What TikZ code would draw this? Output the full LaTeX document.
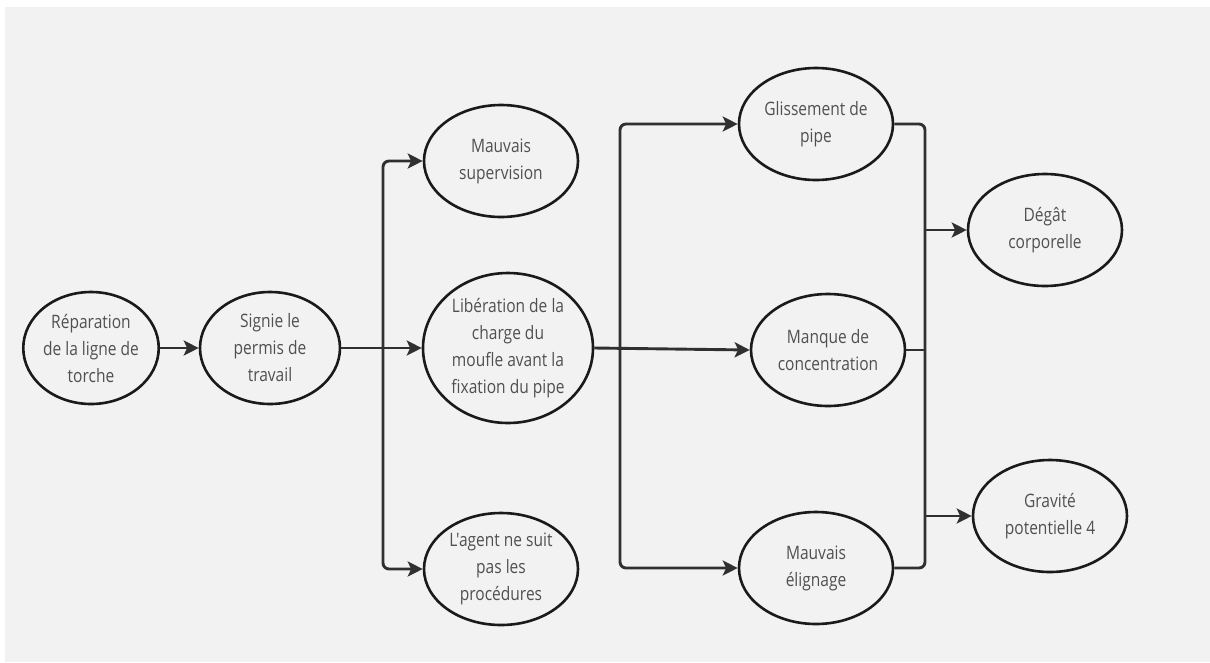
\documentclass[tikz,border=0pt]{standalone}
\usepackage{fontspec}
\newfontfamily\lblfont{Open Sans}[FakeStretch=0.84,Ligatures=TeXOff]
\usetikzlibrary{shapes.geometric,arrows.meta}
\definecolor{pagebg}{HTML}{F2F2F2}
\definecolor{txtgray}{HTML}{505050}
\definecolor{edge}{HTML}{1A1A1A}
\definecolor{wire}{HTML}{303030}
\tikzset{
  oval/.style={ellipse, draw=edge, line width=2.6pt, inner sep=0pt,
    minimum width=154pt, minimum height=112pt, align=center,
    text=txtgray, font=\lblfont\fontsize{18.5}{27}\selectfont},
  wireline/.style={draw=wire, line width=2.9pt},
  flow/.style={wireline, -{Stealth[length=15pt,width=15pt,inset=3.5pt]}},
}
\begin{document}
\begin{tikzpicture}[x=1pt,y=-1pt]
  % page
  \fill[white] (0,0) rectangle (1210,662);
  \fill[pagebg] (5,7) rectangle (1210,662);
  \useasboundingbox (0,0) rectangle (1210,662);

  % events
  \node[oval, minimum width=134pt] (rep) at (91,348) {Réparation\\de la ligne de\\torche};
  \node[oval, minimum width=140pt] (sig) at (270,348) {Signie le\\permis de\\travail};
  \node[oval] (sup) at (501,161) {Mauvais\\supervision};
  \node[oval, minimum width=170pt, minimum height=150pt] (lib) at (508,348)
    {Libération de la\\charge du\\moufle avant la\\fixation du pipe};
  \node[oval] (agt) at (501,569) {L'agent ne suit\\pas les\\procédures};
  \node[oval] (gli) at (816,124) {Glissement de\\pipe};
  \node[oval] (man) at (828,350) {Manque de\\concentration};
  \node[oval] (eli) at (816,568) {Mauvais\\élignage};
  \node[oval] (deg) at (1045,230) {Dégât\\corporelle};
  \node[oval] (gra) at (1050,516) {Gravité\\potentielle 4};

  % junction points of the vertical buses
  \coordinate (b1) at (383,348);
  \coordinate (b2) at (620,349);
  \coordinate (b3) at (925,568);

  % connectors
  \draw[flow] (rep) -- (sig);
  \draw[flow] (sig) -- (lib);
  \draw[flow, rounded corners=6pt] (b1) |- (sup.west);
  \draw[flow, rounded corners=6pt] (b1) |- (agt.west);

  \draw[flow] (lib.east) -- (man.west);
  \draw[flow, rounded corners=6pt] (b2) |- (gli.west);
  \draw[flow, rounded corners=6pt] (b2) |- (eli.west);

  \draw[wireline, rounded corners=6pt] (gli.east) -| (b3) -- (eli.east);
  \draw[wireline] (man.east) -- (man.east -| b3);
  \draw[flow] (b3 |- deg.west) -- (deg.west);
  \draw[flow] (b3 |- gra.west) -- (gra.west);
\end{tikzpicture}
\end{document}
